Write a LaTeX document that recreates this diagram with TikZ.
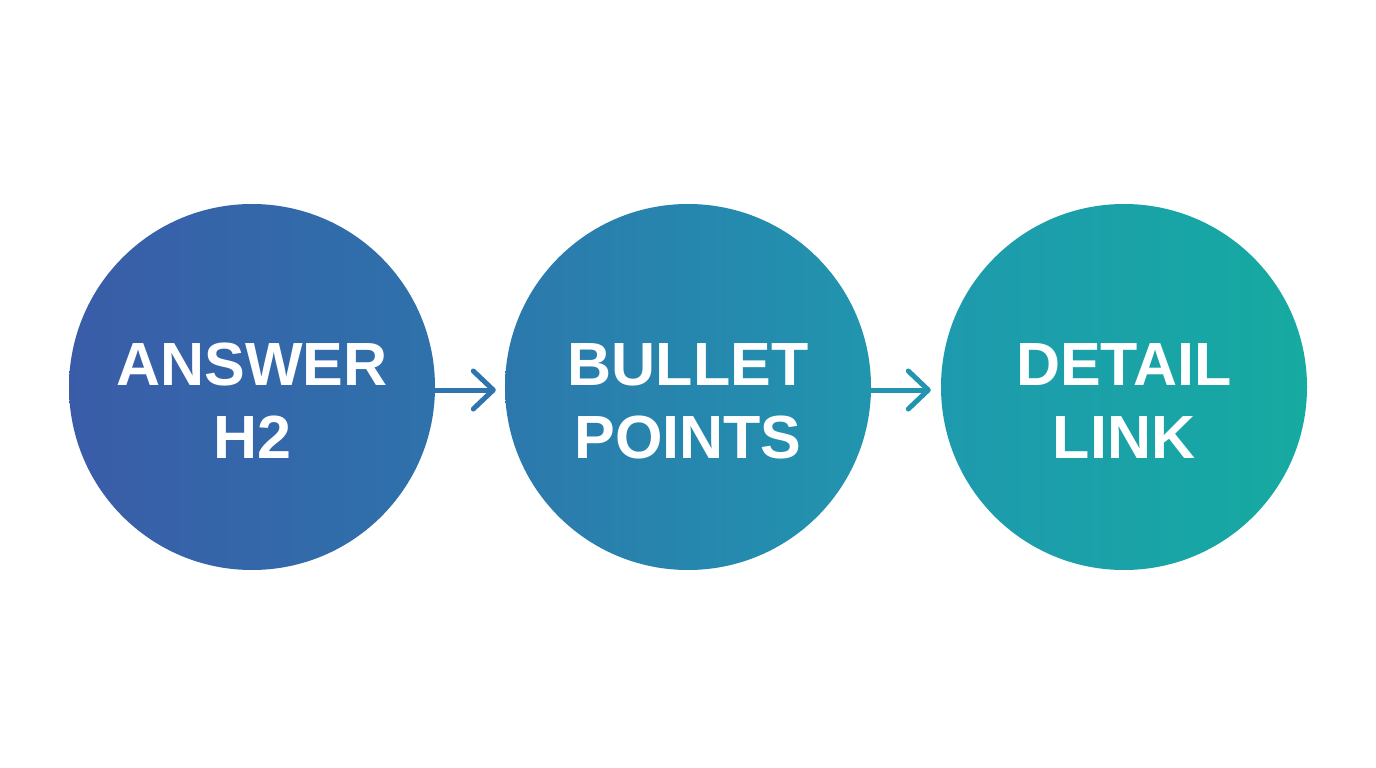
\documentclass[tikz,border=0pt]{standalone}
\usepackage{fontspec}
\setmainfont{Liberation Sans}
\usetikzlibrary{arrows.meta}
\definecolor{cA}{HTML}{3A5CA8}
\definecolor{cB}{HTML}{2E72AB}
\definecolor{cC}{HTML}{2C78AD}
\definecolor{cD}{HTML}{2195AE}
\definecolor{cE}{HTML}{1E9AAE}
\definecolor{cF}{HTML}{16AAA1}
\definecolor{arA}{HTML}{2F74AD}
\definecolor{arB}{HTML}{2294AF}
\tikzset{
  stage/.style={circle, minimum size=366pt, inner sep=0pt},
  lbl/.style={text=white, inner sep=0pt,
    font=\fontsize{61}{73}\selectfont\bfseries, align=center},
  flow/.style={line width=5pt, line cap=round,
    -{Straight Barb[length=20pt,width=38pt,line cap=round,line join=round]}}
}
\begin{document}
\begin{tikzpicture}[x=1pt,y=-1pt]
\fill[white] (0,0) rectangle (1376,768);
\useasboundingbox (0,0) rectangle (1376,768);
\node[stage, left color=cA, right color=cB] (a) at (252,387) {};
\node[stage, left color=cC, right color=cD] (b) at (688,387) {};
\node[stage, left color=cE, right color=cF] (c) at (1124,387) {};
\node[lbl] (at) at ([yshift=-14pt]a.center) {ANSWER\\H2};
\node[lbl] (bt) at ([yshift=-14pt]b.center) {BULLET\\POINTS};
\node[lbl] (ct) at ([yshift=-14pt]c.center) {DETAIL\\LINK};
\draw[flow, arA, shorten >=9pt] ([yshift=-3pt]a.east) -- ([yshift=-3pt]b.west);
\draw[flow, arB, shorten >=10pt] ([yshift=-3pt]b.east) -- ([yshift=-3pt]c.west);
\end{tikzpicture}
\end{document}
